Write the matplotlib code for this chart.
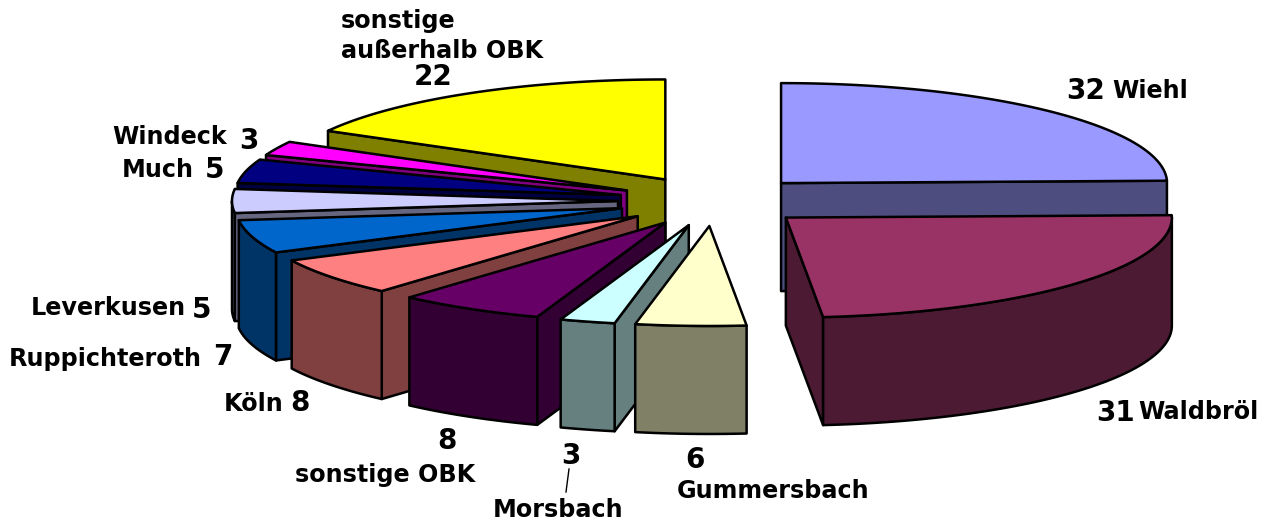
import numpy as np
import matplotlib
matplotlib.use('Agg')
import matplotlib.pyplot as plt
from matplotlib.patches import Polygon

names = ['Wiehl', 'Waldbröl', 'Gummersbach', 'Morsbach', 'sonstige OBK', 'Köln',
         'Ruppichteroth', 'Leverkusen', 'Much', 'Windeck', 'sonstige\naußerhalb OBK']
values = [32, 31, 6, 3, 8, 8, 7, 5, 5, 3, 22]
top_colors = ['#9999FF', '#993366', '#FFFFCC', '#CCFFFF', '#660066', '#FF8080',
              '#0066CC', '#CCCCFF', '#000080', '#FF00FF', '#FFFF00']
wall_colors = ['#4D4D80', '#4D1A33', '#808066', '#668080', '#330033', '#804040',
               '#003366', '#666680', '#000040', '#800080', '#808000']

# pie geometry in pixels
CX, CY = 714, 201
RX, RY = 386, 100
DEPTH = 108
EXPLODE_X, EXPLODE_Y = 96, 25
LW = 1.8

# name position, value position
name_pos = [(1112, 91), (1138, 412), (677, 491), (493, 510), (295, 475), (224, 404),
            (9, 359), (31, 308), (122, 170), (112, 137), (341, 36)]
value_pos = [(1066, 91), (1096, 413), (685, 460), (561, 456), (437, 441), (290, 403),
             (213, 357), (192, 310), (205, 170), (239, 141), (414, 77)]


def arc(a, b, ax0, ay0):
    t = np.radians(np.linspace(a, b, max(int(abs(b - a)) * 2, 2)))
    return np.column_stack([ax0 + RX * np.sin(t), ay0 - RY * np.cos(t)])


def draw_slice(ax, a, b, top, wall):
    mid = np.radians((a + b) / 2)
    x0 = CX + EXPLODE_X * np.sin(mid)
    y0 = CY - EXPLODE_Y * np.cos(mid)
    style = dict(edgecolor='black', linewidth=LW, joinstyle='round')
    down = np.array([0, DEPTH])

    # radial walls, only those turned towards the viewer
    for ang, normal in ((a, a - 90), (b, b + 90)):
        if np.cos(np.radians(normal)) < -1e-6:
            edge = arc(ang, ang, x0, y0)[0]
            pts = np.array([[x0, y0], edge, edge + down, [x0, y0 + DEPTH]])
            ax.add_patch(Polygon(pts, facecolor=wall, **style))

    # outer wall (front half of the ellipse)
    lo, hi = max(a, 90), min(b, 270)
    if hi > lo:
        rim = arc(lo, hi, x0, y0)
        ax.add_patch(Polygon(np.vstack([rim, (rim + down)[::-1]]), facecolor=wall, **style))

    # top
    pts = np.vstack([[x0, y0], arc(a, b, x0, y0)])
    ax.add_patch(Polygon(pts, facecolor=top, **style))


fig = plt.figure(figsize=(12.66, 5.28), dpi=100)
ax = fig.add_axes([0, 0, 1, 1])
ax.set_xlim(0, 1266)
ax.set_ylim(528, 0)
ax.axis('off')

edges = np.concatenate([[0], np.cumsum(values)]) / sum(values) * 360
order = [10, 9, 8, 7, 6, 5, 4, 3, 2, 0, 1]  # back to front
for i in order:
    draw_slice(ax, edges[i], edges[i + 1], top_colors[i], wall_colors[i])

for i in range(len(values)):
    ax.text(name_pos[i][0], name_pos[i][1], names[i], fontsize=17.2, fontweight='bold',
            family='DejaVu Sans', ha='left', va='center', linespacing=1.3)
    ax.text(value_pos[i][0], value_pos[i][1], str(values[i]), fontsize=20, fontweight='bold',
            family='DejaVu Sans', ha='left', va='center')

# leader for Morsbach
ax.plot([569, 566], [469, 492], color='black', lw=1)

fig.savefig('out.png', dpi=100)
